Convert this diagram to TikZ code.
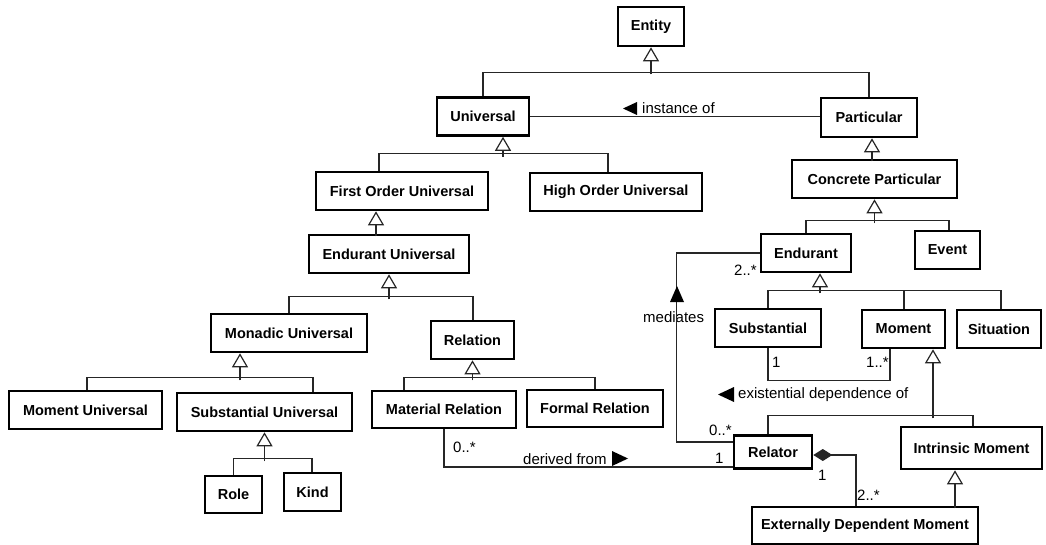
\documentclass[tikz,border=0pt]{standalone}
\usepackage{fontspec}
\setmainfont{Liberation Sans}
\usetikzlibrary{arrows.meta,calc}
\begin{document}
\begin{tikzpicture}[x=1pt,y=-1pt,
  box/.style={draw, line width=2.6pt, inner sep=0pt, minimum height=38pt,
    font=\fontsize{14.5}{16}\selectfont\bfseries},
  conn/.style={line width=1.2pt, draw=black!85},
  inh/.style={conn, -{Triangle[open, width=16pt, length=14pt, line width=1.2pt]}},
  lbl/.style={font=\fontsize{15}{17}\selectfont, inner sep=0pt, anchor=base west},
  tip/.style={fill=black}
]
\useasboundingbox (0,0) rectangle (1046,545);
% classes
\node[box, minimum width=66pt, minimum height=39pt] (entity) at (651,26.5) {Entity};
\node[box, minimum width=92pt] (univ) at (483,116.5) {Universal};
\node[box, minimum width=96pt, minimum height=39pt] (part) at (869,117.5) {Particular};
\node[box, minimum width=172pt] (fou) at (402,191) {First Order Universal};
\node[box, minimum width=172pt] (hou) at (616,192) {High Order Universal};
\node[box, minimum width=160pt] (eu) at (389,254) {Endurant Universal};
\node[box, minimum width=156pt] (mu) at (289,333) {Monadic Universal};
\node[box, minimum width=83pt] (rel) at (472.5,340) {Relation};
\node[box, minimum width=153pt] (momu) at (85.5,410) {Moment Universal};
\node[box, minimum width=175pt] (su) at (264.5,412) {Substantial Universal};
\node[box, minimum width=57pt, minimum height=37pt] (role) at (233.5,494.5) {Role};
\node[box, minimum width=57pt] (kind) at (312.5,492) {Kind};
\node[box, minimum width=144pt, minimum height=37pt] (mr) at (444,409.5) {Material Relation};
\node[box, minimum width=136pt, minimum height=37pt] (fr) at (595,408.5) {Formal Relation};
\node[box, minimum width=165pt] (cp) at (874.5,179) {Concrete Particular};
\node[box, minimum width=90pt] (end) at (806,253) {Endurant};
\node[box, minimum width=65pt] (event) at (947.5,250) {Event};
\node[box, minimum width=106pt] (subst) at (768,328) {Substantial};
\node[box, minimum width=83pt] (mom) at (903.5,329) {Moment};
\node[box, minimum width=84pt] (sit) at (999,329) {Situation};
\node[box, minimum width=78pt, minimum height=33pt] (relator) at (773,452) {Relator};
\node[box, minimum width=141pt, minimum height=42pt] (im) at (971.5,448) {Intrinsic Moment};
\node[box, minimum width=226pt, minimum height=37pt] (edm) at (865,525.5) {Externally Dependent Moment};

% generalizations
\draw[conn] (univ.north) -- ++(0,-24) -| (part.north);
\draw[inh] ([yshift=-27pt]entity.south) -- (entity.south);

\draw[conn] ([xshift=-23pt]fou.north) -- ++(0,-17) -| ([xshift=-8pt]hou.north);
\draw[inh] ([xshift=20pt,yshift=-20pt]univ.south) -- ([xshift=20pt]univ.south);

\draw[inh] ([xshift=-26pt,yshift=-25pt]fou.south) -- ([xshift=-26pt]fou.south);

\draw[conn] (mu.north) -- ++(0,-16) -| ([xshift=0.5pt]rel.north);
\draw[inh] ([yshift=-25pt]eu.south) -- (eu.south);

\draw[conn] ([xshift=1.5pt]momu.north) -- ++(0,-12) -| ([xshift=48.5pt]su.north);
\draw[inh] ([xshift=-49pt,yshift=-27pt]mu.south) -- ([xshift=-49pt]mu.south);

\draw[conn] (role.north) -- ++(0,-16) -| ([xshift=-0.5pt]kind.north);
\draw[inh] ([yshift=-29pt]su.south) -- (su.south);

\draw[conn] ([xshift=-40pt]mr.north) -- ++(0,-12) -| (fr.north);
\draw[inh] ([yshift=-20pt]rel.south) -- (rel.south);

\draw[inh] ([xshift=3pt,yshift=-23pt]part.south) -- ([xshift=3pt]part.south);

\draw[conn] (end.north) -- ++(0,-12) -| ([xshift=1.5pt]event.north);
\draw[inh] ([yshift=-24pt]cp.south) -- (cp.south);

\draw[conn] (subst.north) -- ++(0,-17) -| ([xshift=2pt]sit.north);
\draw[conn] ([xshift=0.5pt]mom.north) -- ++(0,-18);
\draw[inh] ([xshift=14pt,yshift=-20pt]end.south) -- ([xshift=14pt]end.south);

\draw[conn] ([xshift=-5pt]relator.north) -- ++(0,-19) -| ([xshift=1.5pt]im.north);
\draw[inh] ([xshift=29.5pt,yshift=-69pt]mom.south) -- ([xshift=29.5pt]mom.south);

\draw[inh] ([xshift=-16.5pt,yshift=-38pt]im.south) -- ([xshift=-16.5pt]im.south);

% associations
\draw[conn] (univ.east) -- (univ.east -| part.west);
\node[lbl] (linst) at (642,114) {instance of};
\fill[tip] (637,102) -- (637,115) -- (623,108.5) -- cycle;

\draw[conn] (mr.south) |- ([yshift=-15pt]relator.west);
\node[lbl] (lder0) at (453,452) {0..*};
\node[lbl] (lder) at (523,464) {derived from};
\fill[tip] (612,451) -- (612,466) -- (628,458.5) -- cycle;
\node[lbl] (lder1) at (715,463) {1};

\node[lbl] (lmed) at (643,322) {mediates};
\draw[conn] (end.west) -- ++(-83,0) |- ([yshift=10pt]relator.west);
\fill[tip] (670,302) -- (684,302) -- (677,286) -- cycle;
\node[lbl] (lmed2) at (734,276) {2..*};
\node[lbl] (lmed0) at (709,435) {0..*};

\draw[conn] (subst.south) -- ++(0,32) -| ([xshift=-13.5pt]mom.south);
\node[lbl] (lex1) at (772,367) {1};
\node[lbl] (lex2) at (866,367) {1..*};
\node[lbl] (lex) at (738,398) {existential dependence of};
\fill[tip] (734,387) -- (734,402) -- (718,394.5) -- cycle;

\draw[conn, {Diamond[width=12pt,length=19pt]}-] ([yshift=-3pt]relator.east) -| ([xshift=-9pt]edm.north);
\node[lbl] (lcomp1) at (818,480) {1};
\node[lbl] (lcomp2) at (857,500) {2..*};
\end{tikzpicture}
\end{document}
